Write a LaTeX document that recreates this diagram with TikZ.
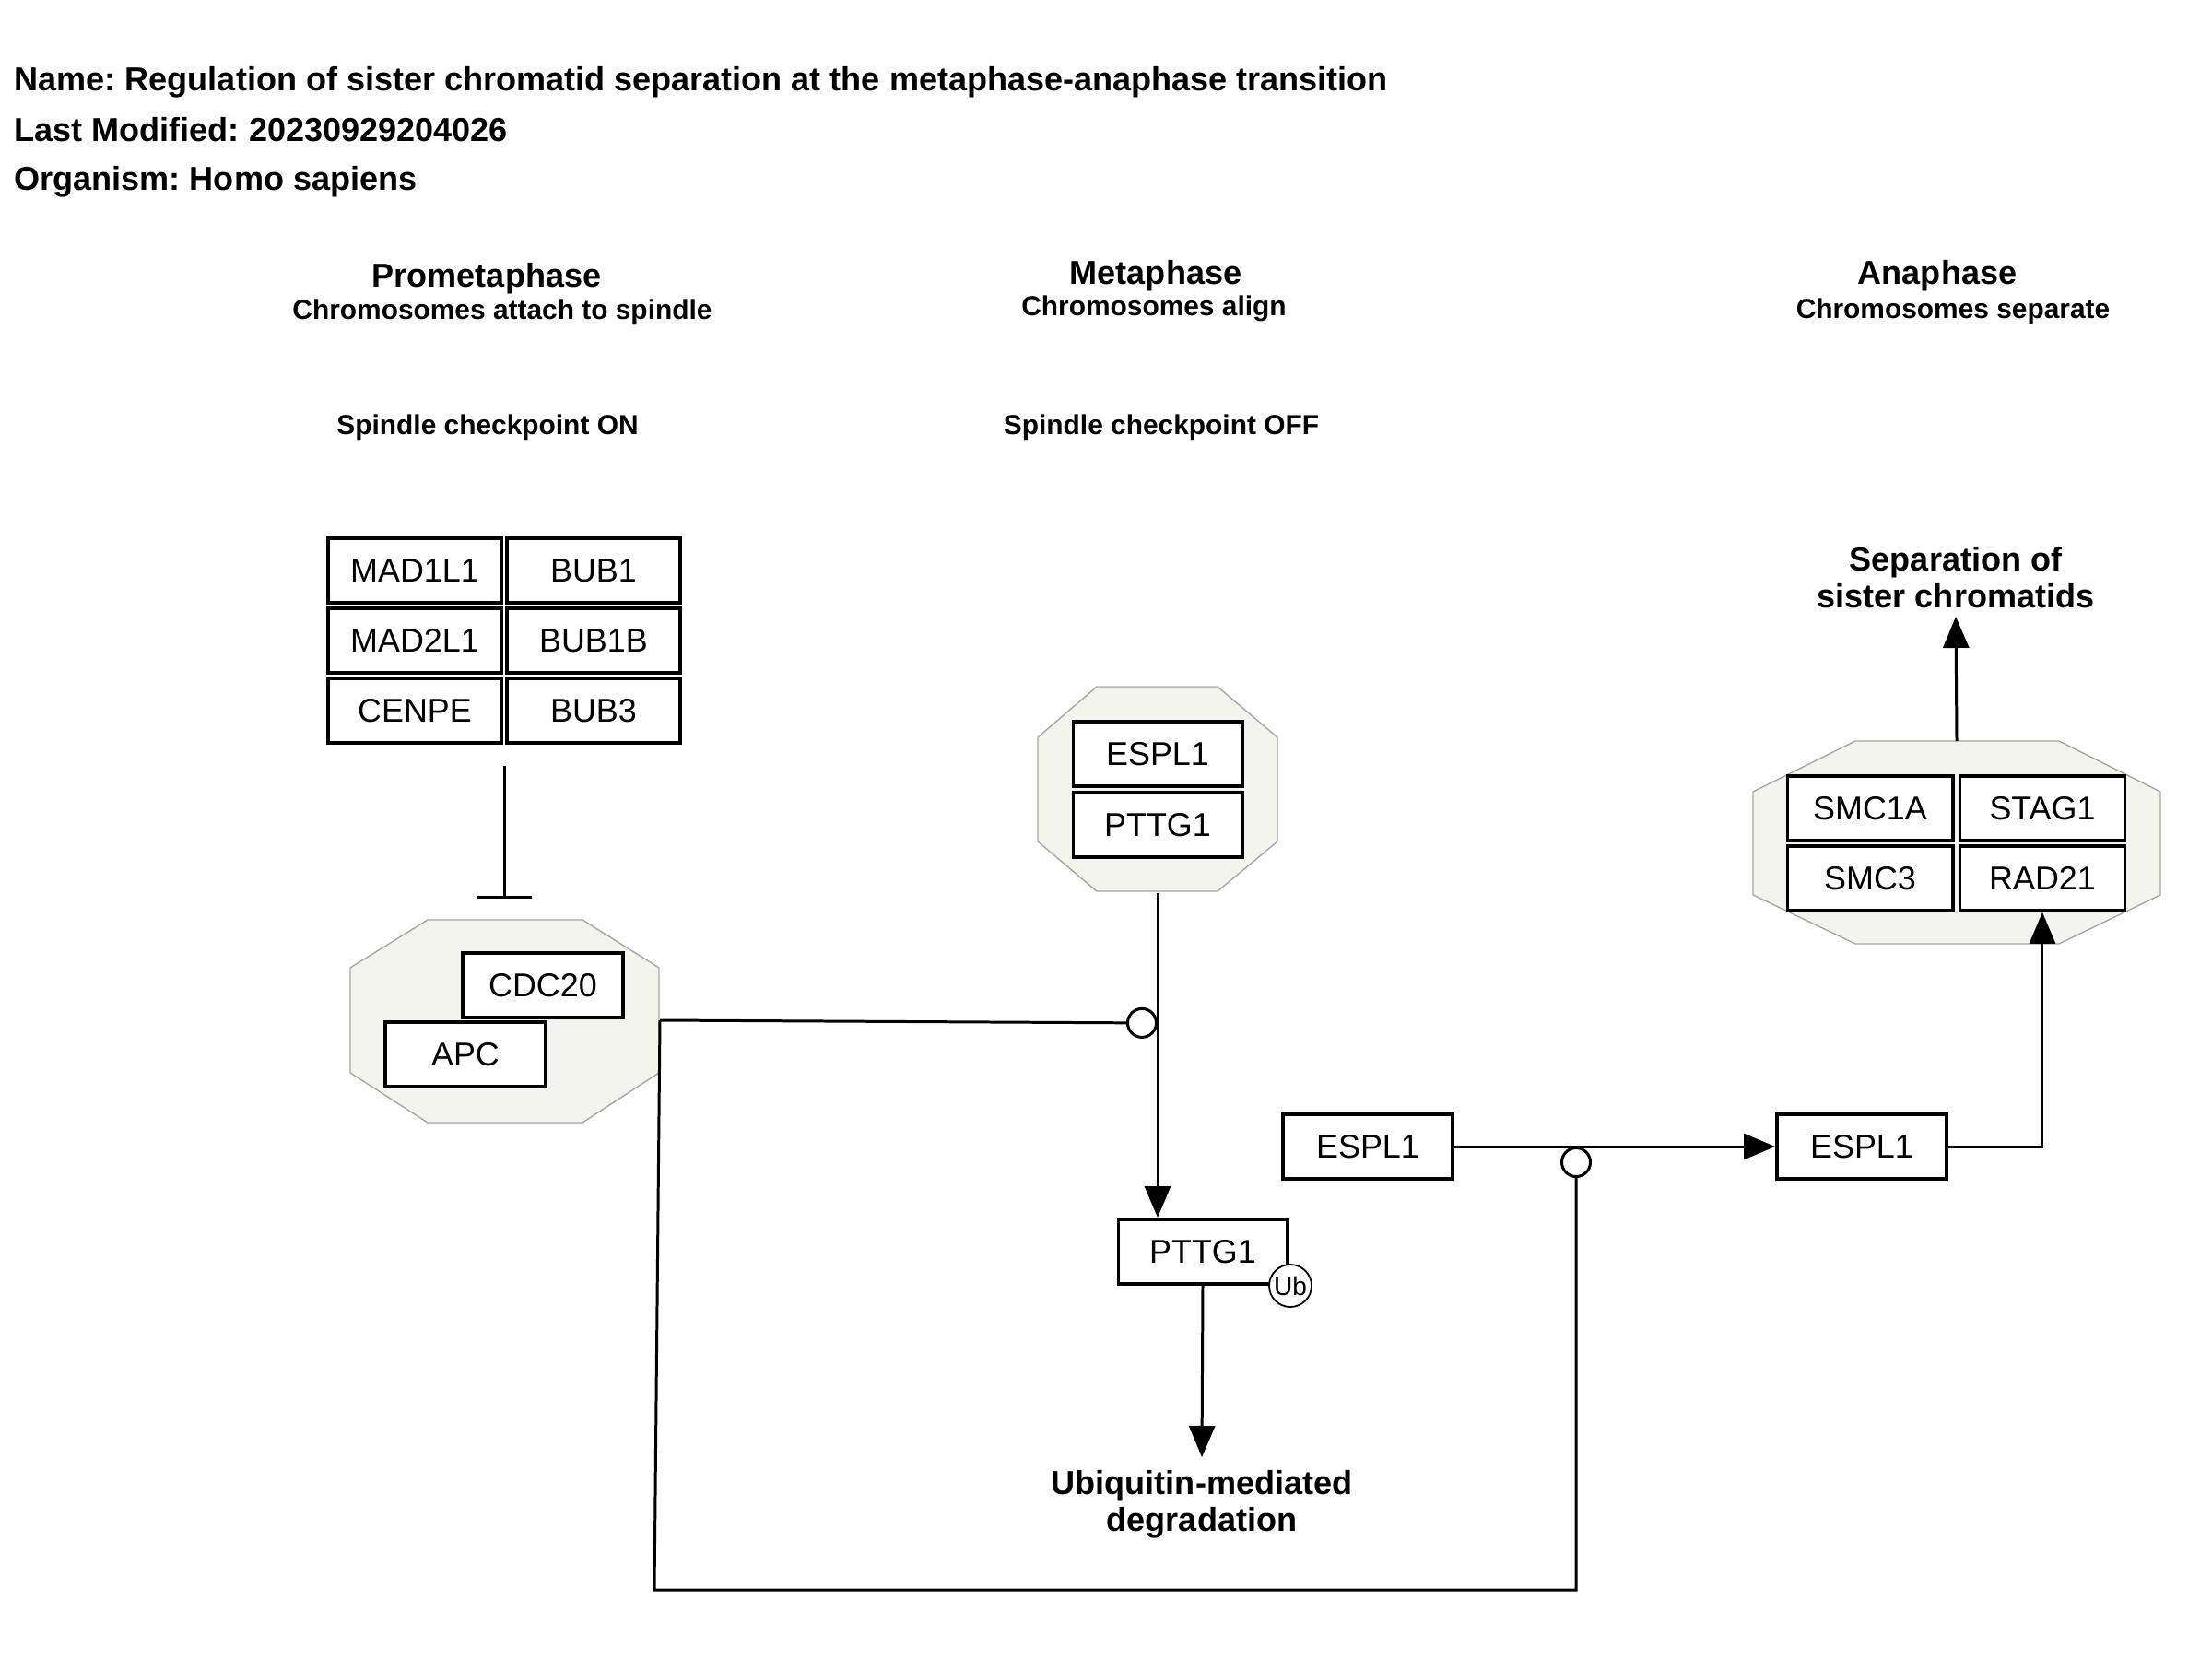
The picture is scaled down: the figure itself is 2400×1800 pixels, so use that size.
\documentclass[tikz,border=0pt]{standalone}
\usepackage{fontspec}
\setmainfont{Liberation Sans}
\usepackage{xcolor}
\usetikzlibrary{arrows.meta, positioning}
\frenchspacing
\definecolor{cplxfill}{HTML}{F4F4EE}
\definecolor{cplxline}{HTML}{A8A8A0}
\tikzstyle{header}    = [anchor=base west, inner sep=0pt, font=\bfseries\fontsize{10.25}{12}\selectfont]
\tikzstyle{phase}     = [anchor=base, inner sep=0pt, font=\bfseries\fontsize{10.25}{12}\selectfont]
\tikzstyle{subphase}  = [anchor=base, inner sep=0pt, font=\bfseries\fontsize{8.5}{10}\selectfont]
\tikzstyle{outcome}   = [align=center, inner sep=0pt, font=\bfseries\fontsize{10.25}{11.4}\selectfont]
\tikzstyle{gene}      = [rectangle, draw=black, line width=1.1pt, fill=white, minimum width=1.88cm,
    minimum height=0.70cm, inner sep=0pt, text centered, font=\fontsize{10.2}{12}\selectfont]
\tikzstyle{complex}   = [draw=cplxline, line width=0.4pt, fill=cplxfill]
\tikzstyle{ubsite}    = [circle, draw=black, line width=0.5pt, fill=white, minimum size=0.46cm,
    inner sep=0pt, font=\fontsize{8}{9}\selectfont]
\tikzstyle{link}      = [line width=0.85pt]
\tikzstyle{arrow}     = [link, -{Triangle[length=0.34cm, width=0.28cm]}]
\tikzstyle{inhibit}   = [link, -{Bar[width=0.6cm]}]
\tikzstyle{catalysis} = [link, -{Circle[open, length=0.34cm, width=0.34cm]}]
\begin{document}
\begin{tikzpicture}[x=0.01cm, y=-0.01cm]
    \useasboundingbox (0,0) rectangle (2400,1800);
    \node (name)     [header] at (15,99)  {Name: Regulation of sister chromatid separation at the metaphase-anaphase transition};
    \node (modified) [header] at (15,153) {Last Modified: 20230929204026};
    \node (organism) [header] at (15,207) {Organism: Homo sapiens};

    \node (prometa)    [phase]    at (528,311)  {Prometaphase};
    \node (prometasub) [subphase] at (545,347)  {Chromosomes attach to spindle};
    \node (meta)       [phase]    at (1254,308) {Metaphase};
    \node (metasub)    [subphase] at (1252,342) {Chromosomes align};
    \node (ana)        [phase]    at (2102,308) {Anaphase};
    \node (anasub)     [subphase] at (2119,345) {Chromosomes separate};
    \node (ckon)       [subphase] at (529,471)  {Spindle checkpoint ON};
    \node (ckoff)      [subphase] at (1260,471) {Spindle checkpoint OFF};

    % checkpoint proteins
    \node (mad1)  [gene]                          at (450,619) {MAD1L1};
    \node (bub1)  [gene, right=0.02cm of mad1]                 {BUB1};
    \node (mad2)  [gene, below=0.02cm of mad1]                 {MAD2L1};
    \node (bub1b) [gene, right=0.02cm of mad2]                 {BUB1B};
    \node (cenpe) [gene, below=0.02cm of mad2]                 {CENPE};
    \node (bub3)  [gene, right=0.02cm of cenpe]                {BUB3};

    % complexes
    \draw [complex] (464,998) -- (632,998) -- (715,1050) -- (715,1164) -- (632,1218) -- (464,1218) -- (380,1164) -- (380,1050) -- cycle;
    \node (cdc20) [gene, minimum width=1.74cm] at (589,1069)  {CDC20};
    \node (apc)   [gene, minimum width=1.74cm] at (505,1144)  {APC};

    \draw [complex] (1190,745) -- (1321,745) -- (1386,800) -- (1386,913) -- (1321,967) -- (1190,967) -- (1126,913) -- (1126,800) -- cycle;
    \node (espl1)  [gene, minimum width=1.83cm]                   at (1256,818) {ESPL1};
    \node (pttg1)  [gene, minimum width=1.83cm, below=0.03cm of espl1]         {PTTG1};

    \draw [complex] (2013,804) -- (2234,804) -- (2344,859) -- (2344,971) -- (2234,1024) -- (2013,1024) -- (1902,971) -- (1902,859) -- cycle;
    \node (smc1a) [gene, minimum width=1.79cm]                    at (2029,877) {SMC1A};
    \node (stag1) [gene, minimum width=1.79cm, right=0.04cm of smc1a]          {STAG1};
    \node (smc3)  [gene, minimum width=1.79cm, below=0.02cm of smc1a]          {SMC3};
    \node (rad21) [gene, minimum width=1.79cm, right=0.04cm of smc3]           {RAD21};

    % free proteins
    \node (pttgub) [gene, minimum width=1.83cm] at (1305,1358) {PTTG1};
    \node (ub)     [ubsite] at (1400,1395) {Ub};
    \node (separase)  [gene, minimum width=1.84cm] at (1484,1244) {ESPL1};
    \node (separase2) [gene, minimum width=1.84cm] at (2020,1244) {ESPL1};

    \node (sister) [outcome, anchor=south, inner sep=0.08cm] at (2122,669) {Separation of\\sister chromatids};
    \node (degr)   [outcome, anchor=north, inner ysep=0.14cm] at (1304,1581) {Ubiquitin-mediated\\degradation};

    \coordinate (ckB)  at (547,831);
    \coordinate (cdcT) at (547,975);
    \coordinate (cdcR) at (716,1107);
    \coordinate (sepB) at (1256,969);
    \coordinate (cohT) at (2123,804);
    \coordinate (cat1) at (1256,1110);
    \coordinate (cat2) at (1710,1244);
    \coordinate (loopA) at (710,1725);
    \coordinate (loopB) at (1710,1725);

    \draw [inhibit]   (ckB)  -- (cdcT);
    \draw [arrow]     (sepB) -- (sepB |- pttgub.north);
    \draw [catalysis] (cdcR) -- (cat1);
    \draw [catalysis] (cdcR) -- (loopA) -- (loopB) -- (cat2);
    \draw [arrow]     (pttgub.south) -- (degr.north);
    \draw [arrow]     (separase) -- (separase2);
    \draw [arrow]     (separase2.east) -| (rad21.south);
    \draw [arrow]     (cohT) -- (sister.south);
\end{tikzpicture}
\end{document}
